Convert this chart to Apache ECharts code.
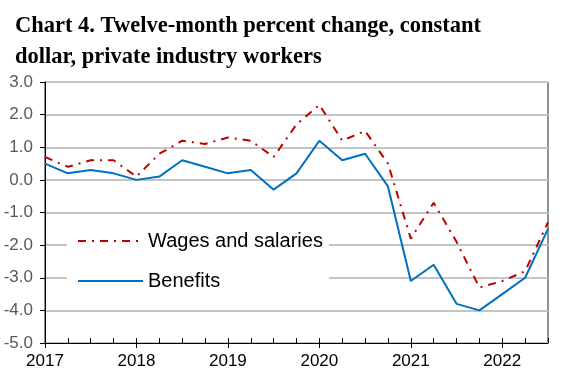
<!DOCTYPE html>
<html>
<head>
<meta charset="utf-8">
<script src="https://cdn.jsdelivr.net/npm/echarts@6/dist/echarts.min.js"></script>
<style>html,body{margin:0;padding:0;background:#fff;}#c{width:586px;height:388px;}</style>
</head>
<body>
<div id="c"></div>
<script>
const quarters = ['2017Q1','2017Q2','2017Q3','2017Q4','2018Q1','2018Q2','2018Q3','2018Q4','2019Q1','2019Q2','2019Q3','2019Q4','2020Q1','2020Q2','2020Q3','2020Q4','2021Q1','2021Q2','2021Q3','2021Q4','2022Q1','2022Q2','2022Q3'];
const wages = [0.7,0.4,0.6,0.6,0.1,0.8,1.2,1.1,1.3,1.2,0.7,1.7,2.3,1.2,1.5,0.5,-1.8,-0.7,-1.9,-3.3,-3.1,-2.8,-1.3];
const benefits = [0.5,0.2,0.3,0.2,0.0,0.1,0.6,0.4,0.2,0.3,-0.3,0.2,1.2,0.6,0.8,-0.2,-3.1,-2.6,-3.8,-4.0,-3.5,-3.0,-1.5];
const seriesNames = ['Wages and salaries','Benefits'];
const titleText = 'Chart 4. Twelve-month percent change, constant\ndollar, private industry workers';

const chart = echarts.init(document.getElementById('c'));
chart.setOption({
  animation: false,
  backgroundColor: '#fff',
  title: {
    text: titleText, left: 10, top: 6,
    textStyle: {fontFamily: 'Liberation Serif', fontWeight: 'bold', fontSize: 22.5, lineHeight: 31, color: '#000'}
  },
  grid: {left: 45, right: 38, top: 82, bottom: 45, show: true, borderColor: '#222', borderWidth: 1},
  legend: {
    data: seriesNames, orient: 'vertical', left: 67, top: 223,
    backgroundColor: '#fff', padding: [8, 6, 8, 10], itemWidth: 65, itemHeight: 20, itemGap: 20,
    itemStyle: {opacity: 0, borderWidth: 0},
    textStyle: {fontFamily: 'Liberation Sans', fontSize: 20, color: '#000'}
  },
  xAxis: [{
    type: 'category', data: quarters, boundaryGap: false,
    axisLine: {onZero: false, lineStyle: {color: '#000', width: 1}},
    axisTick: {inside: true, length: 5, interval: 0, lineStyle: {color: '#000'}},
    axisLabel: {interval: 3, margin: 10, color: '#000', fontFamily: 'Liberation Sans', fontSize: 17,
      formatter: v => v.slice(0, 4)},
    splitLine: {show: false}
  }, {
    type: 'category', data: quarters, boundaryGap: false, position: 'bottom',
    axisLine: {show: false, onZero: false},
    axisTick: {inside: false, length: 5, interval: 3, lineStyle: {color: '#000'}},
    axisLabel: {show: false}, splitLine: {show: false}
  }],
  yAxis: {
    type: 'value', min: -5, max: 3, interval: 1,
    axisLine: {show: true, onZero: false, lineStyle: {color: '#000'}},
    axisTick: {show: true, length: 5, lineStyle: {color: '#000'}},
    axisLabel: {margin: 12, color: '#595959', fontFamily: 'Liberation Sans', fontSize: 17, formatter: v => v.toFixed(1)},
    splitLine: {lineStyle: {color: '#c4c4c4', width: 2}}
  },
  series: [{
    name: seriesNames[0], type: 'line', data: wages, symbol: 'none', z: 3,
    lineStyle: {color: '#c00000', width: 2, type: [8, 6, 2, 6]}, itemStyle: {color: '#c00000'}
  }, {
    name: seriesNames[1], type: 'line', data: benefits, symbol: 'none', z: 4,
    lineStyle: {color: '#0070c0', width: 2}, itemStyle: {color: '#0070c0'}
  }]
});
</script>
</body>
</html>
